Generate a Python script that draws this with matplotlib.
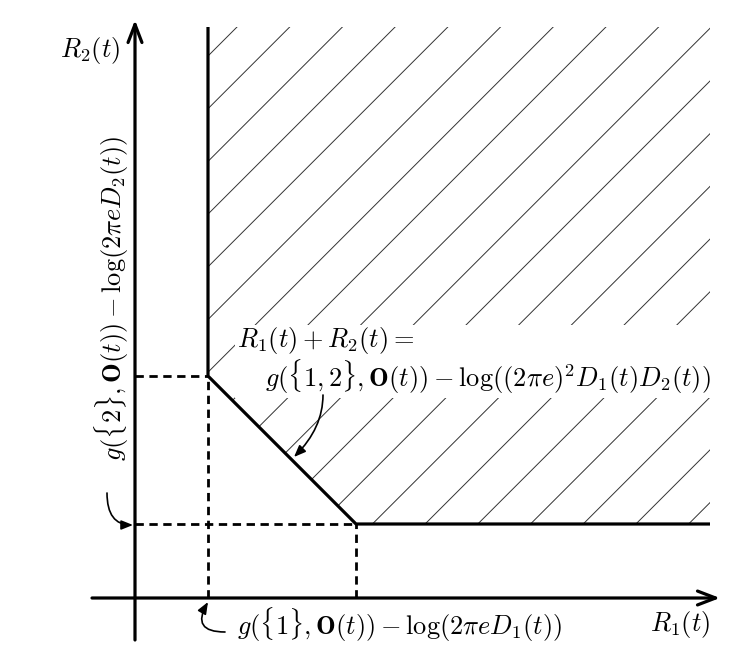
import matplotlib.pyplot as plt
import numpy as np
from matplotlib.patches import Polygon, Rectangle, FancyArrowPatch

plt.rcParams['mathtext.fontset'] = 'cm'
plt.rcParams['font.family'] = ['DejaVu Serif']

# rate region bounds (arbitrary units, origin at axis crossing)
A1 = 0.73      # single-user bound for R1
A2 = 0.74      # single-user bound for R2
S = 2.95       # sum-rate bound
R1_max = 5.75  # where the drawn region stops on the right
R2_max = 5.71  # where the drawn region stops at the top
hatch_step = 0.527
hatch_start = -4.69

x_axis = [-0.43, 5.85]
y_axis = [-0.42, 5.78]

lbl_R1 = r'$R_1(t)$'
lbl_R2 = r'$R_2(t)$'
lbl_g1 = r'$g(\{1\},\mathbf{O}(t))-\log(2\pi eD_1(t))$'
lbl_g2 = r'$g(\{2\},\mathbf{O}(t))-\log(2\pi eD_2(t))$'
lbl_sum1 = r'$R_1(t)+R_2(t)=$'
lbl_sum2 = r'$g(\{1,2\},\mathbf{O}(t))-\log((2\pi e)^2D_1(t)D_2(t))$'

fig = plt.figure(figsize=(7.47, 6.63), dpi=100)
ax = fig.add_axes([0, 0, 1, 1])
ax.set_xlim(-1.35, 6.12)
ax.set_ylim(-0.65, 5.98)
ax.axis('off')

# corners of the achievable region
corner1 = (A1, S - A1)
corner2 = (S - A2, A2)
region = [(A1, R2_max), corner1, corner2, (R1_max, A2), (R1_max, R2_max)]

# hatching, clipped to the region
clip = Polygon(region, closed=True, fc='none', ec='none')
ax.add_patch(clip)
xs = np.array([-2.0, 8.0])
for k in range(30):
    c = hatch_start + k * hatch_step
    ln, = ax.plot(xs, xs - c, color='#333333', lw=0.7, zorder=1)
    ln.set_clip_path(clip)

# boundary
bx = [A1, corner1[0], corner2[0], R1_max]
by = [R2_max, corner1[1], corner2[1], A2]
ax.plot(bx, by, color='black', lw=2.3, zorder=3, solid_capstyle='butt')

# dashed guides
dash = dict(color='black', lw=2.0, ls=(0, (3.0, 2.0)), zorder=2)
ax.plot([0, A1], [corner1[1], corner1[1]], **dash)
ax.plot([A1, A1], [0, corner1[1]], **dash)
ax.plot([0, corner2[0]], [A2, A2], **dash)
ax.plot([corner2[0], corner2[0]], [0, A2], **dash)

# axes with arrows
for p0, p1 in [((x_axis[0], 0), (x_axis[1], 0)), ((0, y_axis[0]), (0, y_axis[1]))]:
    ax.add_patch(FancyArrowPatch(p0, p1, arrowstyle='->,head_length=0.65,head_width=0.25',
                                 mutation_scale=20, lw=2.3, color='black', zorder=4,
                                 shrinkA=0, shrinkB=0))

# white box behind the sum-rate label
ax.add_patch(Rectangle((1.00, 2.00), 4.77, 0.73, fc='white', ec='none', zorder=2))

fs = 19
ax.text(-0.15, 5.48, lbl_R2, fontsize=fs, ha='right', va='center')
ax.text(5.75, -0.27, lbl_R1, fontsize=fs, ha='right', va='center')
ax.text(1.02, -0.27, lbl_g1, fontsize=fs, ha='left', va='center')
ax.text(-0.23, 3.00, lbl_g2, fontsize=fs, ha='center', va='center', rotation=90)
ax.text(1.02, 2.58, lbl_sum1, fontsize=fs, ha='left', va='center', zorder=5)
ax.text(1.30, 2.21, lbl_sum2, fontsize=fs, ha='left', va='center', zorder=5)

# curly pointer arrows
curl = dict(arrowstyle='-|>,head_length=0.35,head_width=0.14', mutation_scale=20,
            lw=1.2, color='black', zorder=5, shrinkA=0, shrinkB=0)
ax.add_patch(FancyArrowPatch((0.90, -0.34), (A1, -0.04),
                             connectionstyle='angle3,angleA=0,angleB=60', **curl))
ax.add_patch(FancyArrowPatch((-0.28, 1.05), (-0.02, A2 - 0.01),
                             connectionstyle='angle3,angleA=90,angleB=0', **curl))
ax.add_patch(FancyArrowPatch((1.88, 2.03), (1.59, 1.41),
                             connectionstyle='angle3,angleA=90,angleB=45', **curl))

fig.savefig('out.png', dpi=100)
